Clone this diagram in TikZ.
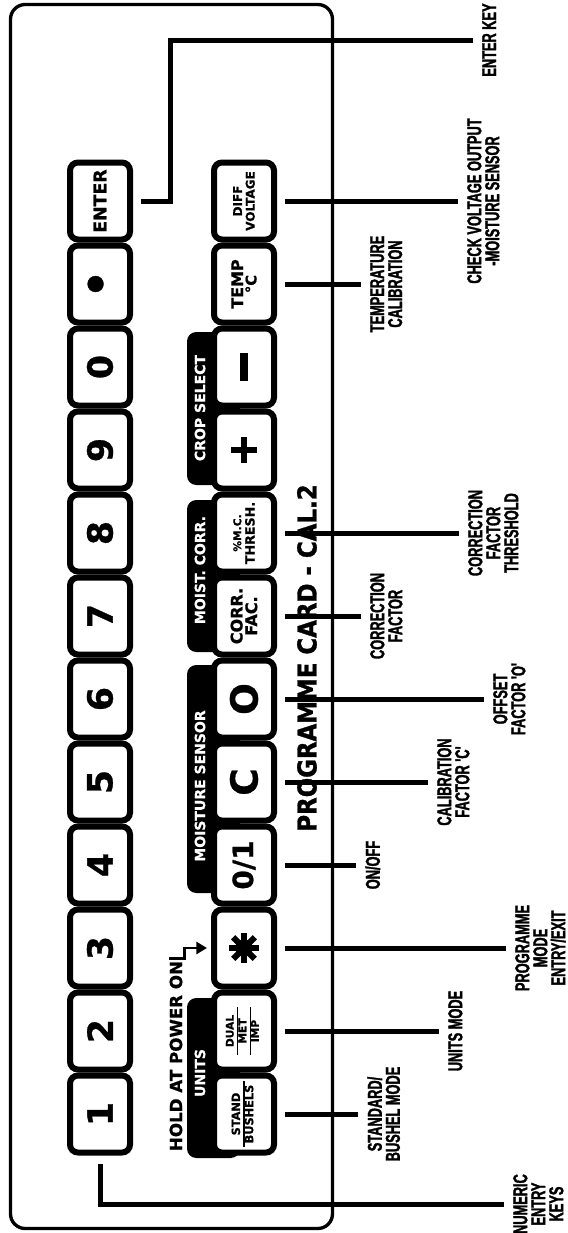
\documentclass[tikz,border=0pt]{standalone}
\usepackage{fontspec}
\setmainfont{DejaVu Sans}[BoldFeatures={FakeBold=0.8}]
\newfontfamily\cardfont[FakeStretch=0.88,BoldFeatures={FakeBold=1.2}]{DejaVu Sans}
\newfontfamily\notefont[FakeStretch=0.64,BoldFeatures={FakeBold=1.6}]{Liberation Sans}
\usetikzlibrary{positioning, arrows.meta}

\setlength{\arrayrulewidth}{1.2pt}
\renewcommand{\arraystretch}{0.9}
\newcommand{\plusmark}{\rlap{\rule[-2.6pt]{19pt}{5.2pt}}\hspace{6.9pt}\rule[-9.5pt]{5.2pt}{19pt}\hspace{6.9pt}}
\newcommand{\minusmark}{\rule[-2.7pt]{21pt}{5.4pt}}

\begin{document}
\begin{tikzpicture}[
    x=0.75pt, y=-0.75pt,
    key/.style={
	draw, fill=white,
	line width=4.5pt,
	rounded corners=6pt,
	rotate=90,
	minimum width=57.75pt,
	minimum height=45pt,
	inner sep=0pt,
	align=center,
	font=\bfseries
    },
    digit/.style={key, font=\bfseries\fontsize{26}{26}\selectfont},
    tab/.style={fill=black, rounded corners=7pt},
    tablabel/.style={rotate=90, text=white, inner sep=0pt,
	font=\bfseries\fontsize{10.5}{12}\selectfont},
    note/.style={rotate=90, anchor=north, align=center, inner sep=0pt,
	font=\notefont\bfseries\fontsize{15}{13.5}\selectfont},
    conn/.style={line width=3.75pt, shorten <=6pt, shorten >=7pt},
    >={Triangle[length=8pt,width=9pt]}
]
	\useasboundingbox (0,0) rectangle (568,1233);

	% card outline
	\draw[line width=2.5pt, rounded corners=11pt] (10.5,4.5) rectangle (332.5,1228.5);

	% group tabs
	\fill[tab] (187,332) rectangle (240,485);
	\fill[tab] (187,500) rectangle (240,652);
	\fill[tab] (187,665) rectangle (240,893);
	\fill[tab] (187,998) rectangle (240,1158);

	% numeric row
	\node[digit] (k1) at (100,1114) {1};
	\node[digit] (k2) at (100,1031) {2};
	\node[digit] (k3) at (100,948) {3};
	\node[digit] (k4) at (100,865) {4};
	\node[digit] (k5) at (100,782) {5};
	\node[digit] (k6) at (100,699) {6};
	\node[digit] (k7) at (100,616) {7};
	\node[digit] (k8) at (100,533) {8};
	\node[digit] (k9) at (100,450) {9};
	\node[digit] (k0) at (100,367) {0};
	\node[digit] (kDot) at (100,284) {\fontsize{34}{34}\selectfont •};
	\node[key, font=\bfseries\fontsize{13}{13}\selectfont] (kEnter) at (100,201) {ENTER};

	% function row
	\node[key, font=\bfseries\fontsize{8.5}{9}\selectfont] (kStand) at (244,1114)
	    {\begin{tabular}{@{\hspace{3pt}}c@{\hspace{3pt}}}STAND\\\hline BUSHELS\end{tabular}};
	\node[key, font=\bfseries\fontsize{8}{9}\selectfont] (kDual) at (244,1031)
	    {\begin{tabular}{@{\hspace{6pt}}c@{\hspace{6pt}}}DUAL\\\hline MET\\\hline IMP\end{tabular}};
	\node[key] (kStar) at (244,948) {};
	\node[key, font=\bfseries\fontsize{21}{21}\selectfont] (kOnOff) at (244,865) {0/1};
	\node[key, font=\bfseries\fontsize{28}{28}\selectfont] (kC) at (244,782) {C};
	\node[key, font=\bfseries\fontsize{28}{28}\selectfont] (kO) at (244,699) {O};
	\node[key, font=\bfseries\fontsize{12}{11}\selectfont] (kCorr) at (244,616) {CORR.\\FAC.};
	\node[key, font=\bfseries\fontsize{9.5}{10}\selectfont] (kThresh) at (244,533)
	    {{\fontsize{8}{9}\selectfont\%M.C.}\\THRESH.};
	\node[key] (kPlus) at (244,450) {\plusmark};
	\node[key] (kMinus) at (244,367) {\minusmark};
	\node[key, font=\bfseries\fontsize{12}{10}\selectfont] (kTemp) at (244,284)
	    {TEMP\\{\fontsize{11}{10}\selectfont °C}};
	\node[key, font=\bfseries\fontsize{9}{9.5}\selectfont] (kDiff) at (244,201) {DIFF\\VOLTAGE};

	% programme key mark
	\fill (kStar.center) circle (6.5pt);
	\foreach \a in {0,45,90,135}
	    \draw[line width=4.5pt] ([shift={(\a:11.5pt)}]kStar.center) -- ([shift={(\a+180:11.5pt)}]kStar.center);

	% tab labels
	\node[tablabel] (tCrop) at (200,408) {CROP SELECT};
	\node[tablabel] (tCorr) at (200,570) {MOIST.\ CORR.};
	\node[tablabel] (tSensor) at (200,786) {MOISTURE SENSOR};
	\node[tablabel] (tUnits) at (200,1073) {UNITS};

	% Hold at power on
	\node[rotate=90, inner sep=0pt, font=\bfseries\fontsize{12.5}{13}\selectfont] (hold) at (176,1056) {HOLD AT POWER ON};
	\draw[line width=2.2pt, ->, shorten >=3pt] ([yshift=1.5pt]hold.north east) -- ++(15,0) |- (kStar.north);

	\node[rotate=90, inner sep=0pt, font=\cardfont\bfseries\fontsize{19.5}{20}\selectfont] (title) at (307,658)
	    {PROGRAMME CARD - CAL.2};

	% callouts
	\node[note] (lEnter) at (482,40) {ENTER KEY};
	\node[note] (lDiff) at (467,201) {CHECK VOLTAGE OUTPUT\\-MOISTURE SENSOR};
	\node[note] (lTemp) at (370,284) {TEMPERATURE\\CALIBRATION};
	\node[note] (lThresh) at (468,533) {CORRECTION\\FACTOR\\THRESHOLD};
	\node[note] (lCorr) at (370,616) {CORRECTION\\FACTOR};
	\node[note] (lO) at (493,699) {OFFSET\\FACTOR 'O'};
	\node[note] (lC) at (437,782) {CALIBRATION\\FACTOR 'C'};
	\node[note] (lOnOff) at (365,865) {ON/OFF};
	\node[note] (lStar) at (515,948) {PROGRAMME\\MODE\\ENTRY/EXIT};
	\node[note] (lDual) at (448,1031) {UNITS MODE};
	\node[note] (lStand) at (367,1114) {STANDARD/\\BUSHEL MODE};
	\node[note] (lNum) at (513,1204) {NUMERIC\\ENTRY\\KEYS};

	% Enter / numeric
	\draw[conn] (kEnter.south) -- ++(37,0) |- (lEnter.north);
	\draw[conn] (k1.west) |- (lNum.north);

	% function keys
	\draw[conn] (kDiff.south) -- (lDiff.north);
	\draw[conn] (kTemp.south) -- (lTemp.north);
	\draw[conn] (kThresh.south) -- (lThresh.north);
	\draw[conn] (kCorr.south) -- (lCorr.north);
	\draw[conn] (kO.south) -- (lO.north);
	\draw[conn] (kC.south) -- (lC.north);
	\draw[conn] (kOnOff.south) -- (lOnOff.north);
	\draw[conn] (kStar.south) -- (lStar.north);
	\draw[conn] (kDual.south) -- (lDual.north);
	\draw[conn] (kStand.south) -- (lStand.north);
\end{tikzpicture}
\end{document}
